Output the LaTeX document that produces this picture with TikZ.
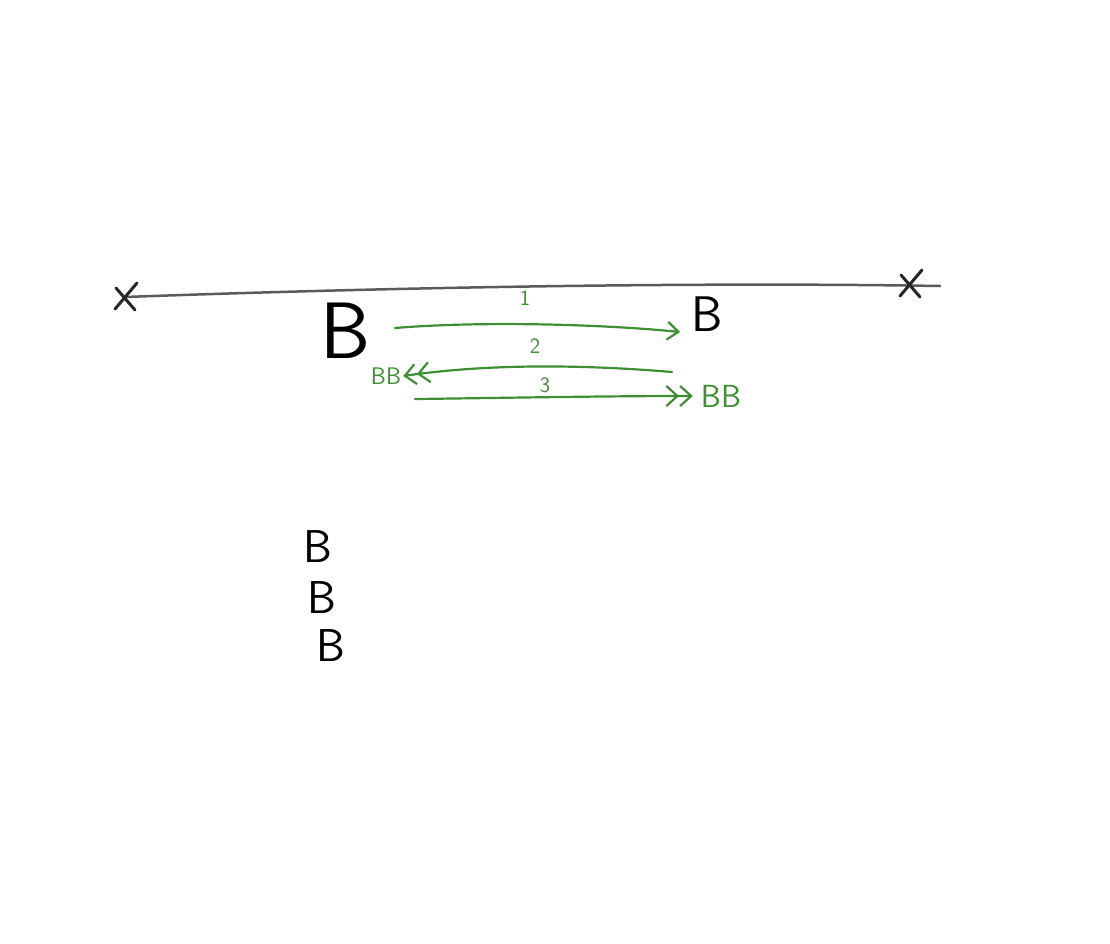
\documentclass[tikz,border=0pt]{standalone}
\usepackage{fontspec}
\usetikzlibrary{arrows.meta}
\definecolor{penGreen}{RGB}{62,142,52}
\definecolor{penGray}{RGB}{90,90,90}
\tikzset{
  handB/.style={font=\sffamily\fontsize{#1}{#1}\selectfont, inner sep=0pt},
  greenB/.style={handB=#1, text=penGreen},
  greenline/.style={draw=penGreen, line width=2.2pt, line cap=round},
  passnum/.style={handB=22, text=penGreen}
}
\begin{document}
\begin{tikzpicture}[x=1pt,y=-1pt]
\useasboundingbox (0,0) rectangle (1110,943);
% the long line with its two ends
\coordinate (xl) at (125,297);
\coordinate (xr) at (910,284);
\draw[penGray, line width=2.5pt, line cap=round]
(xl) .. controls (400,287) and (700,282) .. (940,286);
\foreach \c in {xl,xr}
{\draw[black!85, line width=3pt, line cap=round]
([shift={(-10,12)}]\c) -- ([shift={(12,-14)}]\c)
([shift={(-9,-9)}]\c) -- ([shift={(10,13)}]\c);}
% letters
\node[handB=80] (bigB) at (346,331) {B};
\node[handB=50] (farB) at (707,314) {B};
\node[greenB=24] (bbL) at (386,376) {BB};
\node[greenB=32] (bbR) at (721,396) {BB};
\node[handB=46] (stackA) at (318,547) {B};
\node[handB=46] (stackB) at (322,598) {B};
\node[handB=46] (stackC) at (331,646) {B};
% the three passes
\coordinate (p1) at (395,328);
\coordinate (q1) at (680,332);
\coordinate (p2) at (672,372);
\coordinate (p3) at (415,399);
\draw[greenline, -{Straight Barb[length=11pt,width=18pt]}]
(p1) .. controls (480,321) and (600,324) .. (q1);
\draw[greenline, -{Straight Barb[length=11pt,width=20pt]Straight Barb[length=11pt,width=20pt]}]
(p2) .. controls (600,366) and (500,362) .. ([xshift=2pt]bbL.east);
\draw[greenline, -{Straight Barb[length=11pt,width=20pt]Straight Barb[length=11pt,width=20pt]}]
(p3) .. controls (500,398) and (600,396) .. ([xshift=-8pt]bbR.west);
\node[passnum] (n1) at (525,298) {1};
\node[passnum] (n2) at (535,346) {2};
\node[passnum] (n3) at (545,385) {3};
\end{tikzpicture}
\end{document}
